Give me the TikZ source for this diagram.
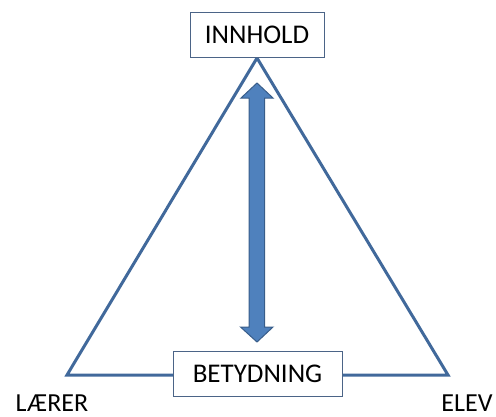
\documentclass[tikz,border=0pt]{standalone}
\usepackage{fontspec}
\setmainfont{Carlito}
\usetikzlibrary{calc}
\begin{document}
\begin{tikzpicture}[x=1pt,y=-1pt,
  tri/.style={draw={rgb,255:red,65;green,105;blue,155}, line width=3pt, line join=miter},
  lbox/.style={draw={rgb,255:red,75;green,100;blue,135}, line width=1pt, fill=white, minimum height=45pt, inner sep=0pt, font=\fontsize{27}{32}\selectfont},
  lbl/.style={inner sep=0pt, font=\fontsize{26}{30}\selectfont},
  darr/.style={fill={rgb,255:red,79;green,129;blue,189}, draw={rgb,255:red,56;green,93;blue,138}, line width=1pt}]
\useasboundingbox (0,0) rectangle (496,416);
\coordinate (A) at (257,58);
\coordinate (L) at (67,375);
\coordinate (R) at (448,375);
\draw[tri] (A) -- (L) -- (R) -- cycle;
\node[lbox, minimum width=134pt] (inn) at (257,34.5) {INNHOLD};
\node[lbox, minimum width=169pt] (bet) at (257.5,374) {BETYDNING};
\node[lbl] (laerer) at (52,403) {LÆRER};
\node[lbl] (elev) at (467,403) {ELEV};
\coordinate (T) at (257,83);
\coordinate (B) at (257,342);
\draw[darr] (T) -- ++(16,15) -- ++(-8.5,0) -- ($(B)+(7.5,-15)$) -- ++(8.5,0) -- (B) -- ++(-16.5,-15) -- ++(8.5,0) -- ($(T)+(-8,15)$) -- ++(-8,0) -- cycle;
\end{tikzpicture}
\end{document}
